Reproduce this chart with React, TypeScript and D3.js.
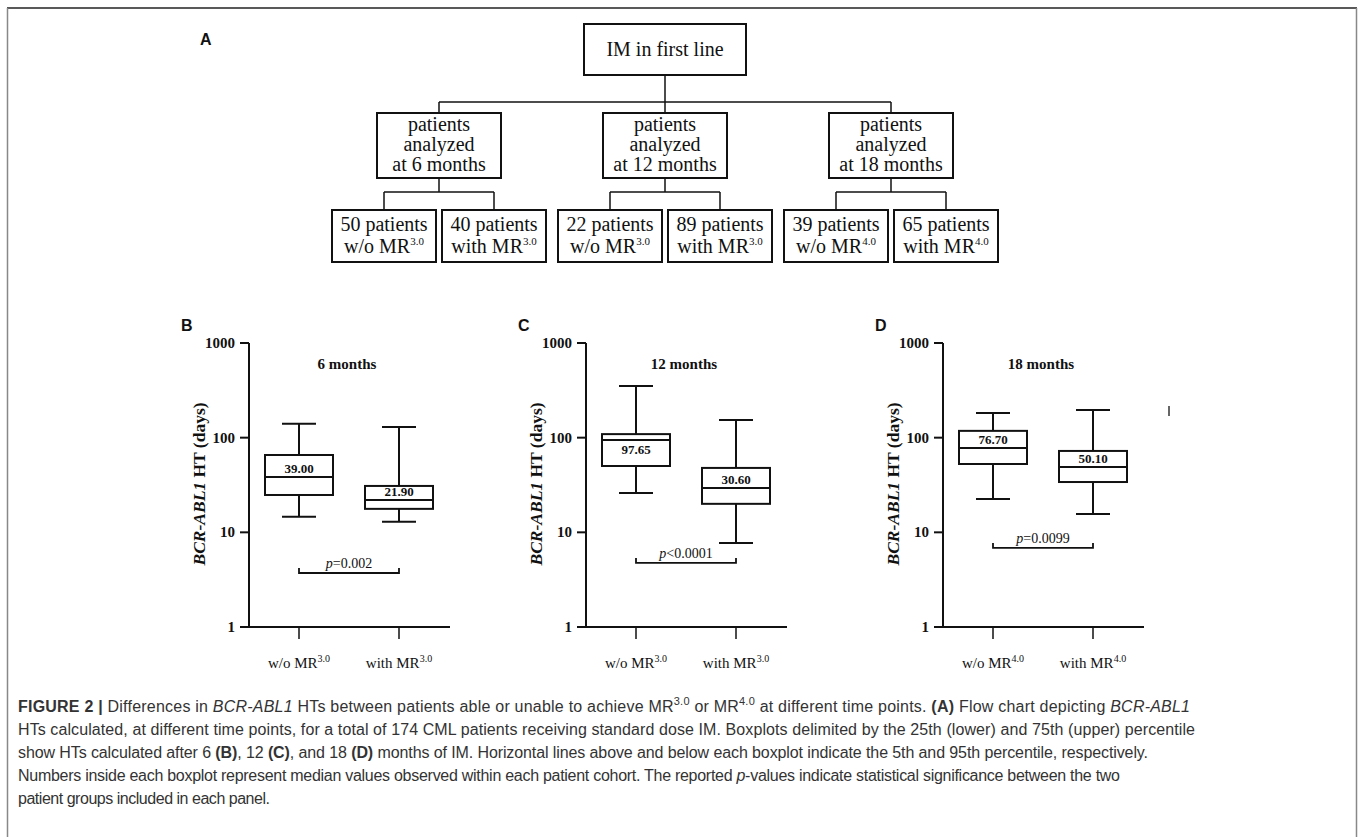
import * as React from "react";
import { useRef, useLayoutEffect } from "react";
import * as d3 from "d3";

// flow chart (panel A)
const rootLabel = "IM in first line";
const timePoints = ["6", "12", "18"];
const leafCounts = [
  [50, 40],
  [22, 89],
  [39, 65],
];
const leafMR = ["3.0", "3.0", "4.0"];

// boxplots (panels B-D)
const panelLetters = ["B", "C", "D"];
const panelTitles = ["6 months", "12 months", "18 months"];
const groups = ["w/o", "with"];
const whiskerLow = [
  [14.6, 12.9],
  [26, 7.7],
  [22.5, 15.6],
];
const q1 = [
  [24.8, 17.7],
  [50.2, 20],
  [52.7, 34],
];
const medians = [
  [38.5, 22],
  [94.6, 29.4],
  [77.8, 49.1],
];
const q3 = [
  [65.6, 30.9],
  [109, 47.9],
  [118, 72.4],
];
const whiskerHigh = [
  [140, 130],
  [352, 154],
  [182, 196],
];
const medianLabels = [
  ["39.00", "21.90"],
  ["97.65", "30.60"],
  ["76.70", "50.10"],
];
const medianLabelBelow = [
  [false, false],
  [true, false],
  [false, false],
];
const pLabels = ["=0.002", "<0.0001", "=0.0099"];
const pBracketAt = [3.72, 4.75, 6.84];
const yTicks = [1, 10, 100, 1000];

type Seg = { t: string; b?: boolean; i?: boolean; sup?: boolean };
const caption: Seg[][] = [
  [
    { t: "FIGURE 2 | ", b: true },
    { t: "Differences in " },
    { t: "BCR-ABL1", i: true },
    { t: " HTs between patients able or unable to achieve MR" },
    { t: "3.0", sup: true },
    { t: " or MR" },
    { t: "4.0", sup: true },
    { t: " at different time points. " },
    { t: "(A)", b: true },
    { t: " Flow chart depicting " },
    { t: "BCR-ABL1", i: true },
  ],
  [
    {
      t: "HTs calculated, at different time points, for a total of 174 CML patients receiving standard dose IM. Boxplots delimited by the 25th (lower) and 75th (upper) percentile",
    },
  ],
  [
    { t: "show HTs calculated after 6 " },
    { t: "(B)", b: true },
    { t: ", 12 " },
    { t: "(C)", b: true },
    { t: ", and 18 " },
    { t: "(D)", b: true },
    {
      t: " months of IM. Horizontal lines above and below each boxplot indicate the 5th and 95th percentile, respectively.",
    },
  ],
  [
    { t: "Numbers inside each boxplot represent median values observed within each patient cohort. The reported " },
    { t: "p", i: true },
    { t: "-values indicate statistical significance between the two" },
  ],
  [{ t: "patient groups included in each panel." }],
];
const captionWidths = [1172, 1177, 1130, 1102, 252];

const serif = "'Liberation Serif', 'Times New Roman', serif";
const sans = "'Liberation Sans', Arial, sans-serif";
const ink = "#111";

const renderSegs = (segs: Seg[], supSize: number, supRise: number) => {
  const out: React.ReactNode[] = [];
  let raised = false;
  segs.forEach((s, k) => {
    let dy = 0;
    if (s.sup && !raised) {
      dy = -supRise;
      raised = true;
    } else if (!s.sup && raised) {
      dy = supRise;
      raised = false;
    }
    out.push(
      <tspan
        key={k}
        dy={dy || undefined}
        fontWeight={s.b ? "bold" : undefined}
        fontStyle={s.i ? "italic" : undefined}
        fontSize={s.sup ? supSize : undefined}
      >
        {s.t}
      </tspan>
    );
  });
  return out;
};

const FlowChart = () => {
  const mid = d3.scalePoint<string>().domain(timePoints).range([439, 891]);
  const rootX = 665;
  const topY = 24,
    topH = 51,
    midY = 113,
    midH = 65,
    midW = 124,
    leafY = 210,
    leafH = 52,
    leafW = 104,
    leafOff = 55;
  const busY = 102,
    leafBusY = 192;
  return (
    <g fontFamily={serif} fill={ink}>
      <text x={200} y={45} fontFamily={sans} fontWeight="bold" fontSize={16}>
        A
      </text>
      <rect x={584} y={topY} width={162} height={topH} fill="none" stroke={ink} strokeWidth={2} />
      <text x={rootX} y={56} fontSize={20} textAnchor="middle">
        {rootLabel}
      </text>
      <line x1={rootX} x2={rootX} y1={topY + topH} y2={busY} stroke={ink} strokeWidth={1.5} />
      <line x1={mid(timePoints[0])} x2={mid(timePoints[2])} y1={busY} y2={busY} stroke={ink} strokeWidth={1.5} />
      {timePoints.map((tp, i) => {
        const cx = mid(tp)!;
        return (
          <g key={tp}>
            <line x1={cx} x2={cx} y1={busY} y2={midY} stroke={ink} strokeWidth={1.5} />
            <rect x={cx - midW / 2} y={midY} width={midW} height={midH} fill="none" stroke={ink} strokeWidth={2} />
            <text x={cx} y={131} fontSize={20} textAnchor="middle">
              patients
            </text>
            <text x={cx} y={151} fontSize={20} textAnchor="middle">
              analyzed
            </text>
            <text x={cx} y={171} fontSize={20} textAnchor="middle">
              at {tp} months
            </text>
            <line x1={cx} x2={cx} y1={midY + midH} y2={leafBusY} stroke={ink} strokeWidth={1.5} />
            <line x1={cx - leafOff} x2={cx + leafOff} y1={leafBusY} y2={leafBusY} stroke={ink} strokeWidth={1.5} />
            {leafCounts[i].map((n, j) => {
              const lx = cx + (j === 0 ? -leafOff : leafOff);
              return (
                <g key={j}>
                  <line x1={lx} x2={lx} y1={leafBusY} y2={leafY} stroke={ink} strokeWidth={1.5} />
                  <rect
                    x={lx - leafW / 2}
                    y={leafY}
                    width={leafW}
                    height={leafH}
                    fill="none"
                    stroke={ink}
                    strokeWidth={2}
                  />
                  <text x={lx} y={231} fontSize={20} textAnchor="middle">
                    {n} patients
                  </text>
                  <text x={lx} y={253} fontSize={20} textAnchor="middle">
                    {groups[j]} MR
                    <tspan fontSize={11} dy={-8}>
                      {leafMR[i]}
                    </tspan>
                  </text>
                </g>
              );
            })}
          </g>
        );
      })}
    </g>
  );
};

const BoxPanel = ({ p, axisX }: { p: number; axisX: number }) => {
  const y = d3.scaleLog().domain([1, 1000]).range([627, 343]);
  const x = d3.scalePoint<string>().domain(groups).range([0, 200]).padding(0.5);
  const boxW = 68,
    capW = 34;
  const bracketY = y(pBracketAt[p]);
  const x0 = x(groups[0])!,
    x1 = x(groups[1])!;
  return (
    <g transform={`translate(${axisX},0)`} fill={ink} fontFamily={serif}>
      <text x={-68} y={331} fontFamily={sans} fontWeight="bold" fontSize={16}>
        {panelLetters[p]}
      </text>
      <text transform={`translate(-44,484) rotate(-90)`} textAnchor="middle" fontWeight="bold" fontSize={17.5}>
        <tspan fontStyle="italic">BCR-ABL1</tspan> HT (days)
      </text>
      {/* y axis */}
      <line x1={0} x2={0} y1={y(1000)} y2={y(1)} stroke={ink} strokeWidth={2} />
      {yTicks.map((t) => (
        <g key={t}>
          <line x1={-9} x2={0} y1={y(t)} y2={y(t)} stroke={ink} strokeWidth={2} />
          <text x={-14} y={y(t) + 5} textAnchor="end" fontWeight="bold" fontSize={15}>
            {t}
          </text>
        </g>
      ))}
      {/* x axis */}
      <line x1={0} x2={201} y1={y(1)} y2={y(1)} stroke={ink} strokeWidth={2} />
      {groups.map((g) => (
        <g key={g}>
          <line x1={x(g)} x2={x(g)} y1={y(1)} y2={y(1) + 12} stroke={ink} strokeWidth={1.5} />
          <text x={x(g)} y={668} textAnchor="middle" fontSize={15}>
            {g} MR
            <tspan fontSize={10} dy={-6}>
              {leafMR[p]}
            </tspan>
          </text>
        </g>
      ))}
      <text x={98} y={369} textAnchor="middle" fontWeight="bold" fontSize={15}>
        {panelTitles[p]}
      </text>
      {groups.map((g, j) => {
        const cx = x(g)!;
        const below = medianLabelBelow[p][j];
        return (
          <g key={g} stroke={ink} strokeWidth={2} fill="none">
            <line x1={cx} x2={cx} y1={y(whiskerHigh[p][j])} y2={y(q3[p][j])} />
            <line x1={cx} x2={cx} y1={y(q1[p][j])} y2={y(whiskerLow[p][j])} />
            <line x1={cx - capW / 2} x2={cx + capW / 2} y1={y(whiskerHigh[p][j])} y2={y(whiskerHigh[p][j])} />
            <line x1={cx - capW / 2} x2={cx + capW / 2} y1={y(whiskerLow[p][j])} y2={y(whiskerLow[p][j])} />
            <rect x={cx - boxW / 2} y={y(q3[p][j])} width={boxW} height={y(q1[p][j]) - y(q3[p][j])} fill="#fff" />
            <line x1={cx - boxW / 2} x2={cx + boxW / 2} y1={y(medians[p][j])} y2={y(medians[p][j])} />
            <text
              x={cx}
              y={y(medians[p][j]) + (below ? 14 : -4)}
              textAnchor="middle"
              fontWeight="bold"
              fontSize={13}
              fill={ink}
              stroke="none"
            >
              {medianLabels[p][j]}
            </text>
          </g>
        );
      })}
      {/* significance bracket */}
      <path d={`M${x0},${bracketY - 5}V${bracketY}H${x1}V${bracketY - 5}`} fill="none" stroke={ink} strokeWidth={1.8} />
      <text x={(x0 + x1) / 2} y={bracketY - 5} textAnchor="middle" fontSize={14}>
        <tspan fontStyle="italic">p</tspan>
        {pLabels[p]}
      </text>
      {p === 2 && <line x1={226} x2={226} y1={406} y2={416} stroke="#333" strokeWidth={1.5} />}
    </g>
  );
};

const Caption = () => {
  const refs = useRef<(SVGTextElement | null)[]>([]);
  useLayoutEffect(() => {
    // squeeze each caption line to the reference line length with letter spacing
    refs.current.forEach((el, k) => {
      if (!el) return;
      el.style.letterSpacing = "0px";
      const natural = el.getComputedTextLength();
      const n = (el.textContent || "").length;
      const ls = (captionWidths[k] - natural) / Math.max(1, n - 1);
      el.style.letterSpacing = `${ls}px`;
    });
  }, []);
  return (
    <g fontFamily={sans} fontSize={16} fill="#333">
      {caption.map((segs, k) => (
        <text key={k} ref={(el) => (refs.current[k] = el)} x={18} y={712 + k * 23}>
          {renderSegs(segs, 11, 7)}
        </text>
      ))}
    </g>
  );
};

export default function App() {
  const axisXs = [249, 586, 943];
  return (
    <svg width={1360} height={837} style={{ position: "absolute", left: 0, top: 0, background: "#fff" }}>
      <rect width={1360} height={837} fill="#fff" />
      <line x1={7} x2={1357} y1={8} y2={8} stroke="#222" strokeWidth={1.5} />
      <line x1={7.5} x2={7.5} y1={8} y2={837} stroke="#888" strokeWidth={1.5} />
      <line x1={1356.5} x2={1356.5} y1={8} y2={837} stroke="#888" strokeWidth={1.5} />
      <FlowChart />
      {axisXs.map((ax, p) => (
        <BoxPanel key={p} p={p} axisX={ax} />
      ))}
      <Caption />
    </svg>
  );
}
